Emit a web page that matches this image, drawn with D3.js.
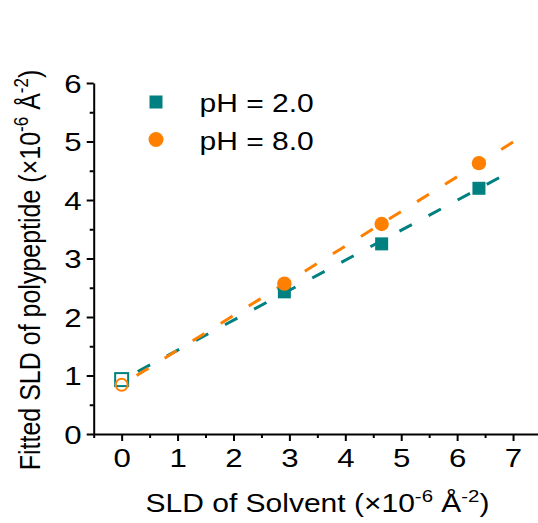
<!DOCTYPE html>
<html>
<head>
<meta charset="utf-8">
<script src="https://cdn.jsdelivr.net/npm/d3@7"></script>
<style>
  body { margin: 0; background: #fff; }
  svg text { font-family: "Liberation Sans", Arial, sans-serif; fill: #000; }
</style>
</head>
<body>
<script>
// data
const seriesNames = ["pH = 2.0", "pH = 8.0"];
const colors = ["#008080", "#ff8000"];
const solventSLD = [0, 2.91, 4.65, 6.39];
const ph2Values = [0.93, 2.43, 3.25, 4.2];
const ph8Values = [0.84, 2.57, 3.59, 4.63];
// fitted lines, endpoints [x, y]
const ph2Fit = [[0, 0.92], [6.75, 4.38]];
const ph8Fit = [[0, 0.84], [7.0, 4.99]];
const xTicks = [0, 1, 2, 3, 4, 5, 6, 7];
const yTicks = [0, 1, 2, 3, 4, 5, 6];

const width = 538, height = 523;
const stretch = 1.2; // text in the picture is a bit wide

const svg = d3.select("body").append("svg")
  .attr("width", width)
  .attr("height", height);

const x = d3.scaleLinear()
  .domain([-0.5, 7.5])
  .range([93.7, 541]);

const y = d3.scaleLinear()
  .domain([0, 6])
  .range([434, 83]);

// minor ticks
svg.append("g")
  .attr("transform", "translate(0,434)")
  .call(d3.axisBottom(x).tickValues(d3.range(-0.5, 7.6, 0.5).filter(d => d % 1 !== 0)).tickSize(4).tickFormat("").tickSizeOuter(0))
  .call(g => g.select(".domain").remove())
  .call(g => g.selectAll("line").attr("stroke-width", 2));

svg.append("g")
  .attr("transform", "translate(93.7,0)")
  .call(d3.axisLeft(y).tickValues(d3.range(0.5, 6, 1)).tickSize(4).tickFormat("").tickSizeOuter(0))
  .call(g => g.select(".domain").remove())
  .call(g => g.selectAll("line").attr("stroke-width", 2));

// major axes
const xAxis = svg.append("g")
  .attr("transform", "translate(0,434)")
  .call(d3.axisBottom(x).tickValues(xTicks).tickFormat(d3.format("d")).tickSize(7).tickSizeOuter(0).tickPadding(8));

const yAxis = svg.append("g")
  .attr("transform", "translate(93.7,0)")
  .call(d3.axisLeft(y).tickValues(yTicks).tickFormat(d3.format("d")).tickSize(7).tickSizeOuter(0));

[xAxis, yAxis].forEach(g => {
  g.select(".domain").attr("stroke-width", 2);
  g.selectAll(".tick line").attr("stroke-width", 2);
  g.selectAll(".tick text")
    .style("font-size", "26px")
    .style("font-family", "'Liberation Sans', Arial, sans-serif")
    .attr("transform", `scale(${stretch},1)`);
});
yAxis.selectAll(".tick text").attr("x", -10).attr("dy", "0.36em");

// fit lines, dashes lined up so each line ends on a dash
const dash = 14, gap = 19;
const line = d3.line().x(d => x(d[0])).y(d => y(d[1]));
[ph2Fit, ph8Fit].forEach((fit, i) => {
  const p = svg.append("path")
    .attr("d", line(fit))
    .attr("fill", "none")
    .attr("stroke", colors[i])
    .attr("stroke-width", 3)
    .attr("stroke-dasharray", `${dash},${gap}`);
  const len = p.node().getTotalLength();
  const period = dash + gap;
  p.attr("stroke-dashoffset", (((dash - len) % period) + period) % period);
});

// points: first point (x = 0) is hollow
const ph2Points = solventSLD.map((d, i) => ({ x: d, y: ph2Values[i], hollow: i === 0 }));
const ph8Points = solventSLD.map((d, i) => ({ x: d, y: ph8Values[i], hollow: i === 0 }));

svg.selectAll(".sq")
  .data(ph2Points)
  .enter()
  .append("rect")
  .attr("class", "sq")
  .attr("x", d => x(d.x) - 6.5)
  .attr("y", d => y(d.y) - 6.5)
  .attr("width", 13)
  .attr("height", 13)
  .attr("fill", d => d.hollow ? "#fff" : colors[0])
  .attr("fill-opacity", d => d.hollow ? 0 : 1)
  .attr("stroke", colors[0])
  .attr("stroke-width", d => d.hollow ? 2 : 0);

svg.selectAll(".dot")
  .data(ph8Points)
  .enter()
  .append("circle")
  .attr("class", "dot")
  .attr("cx", d => x(d.x))
  .attr("cy", d => y(d.y))
  .attr("r", d => d.hollow ? 6 : 7.2)
  .attr("fill", d => d.hollow ? "#fff" : colors[1])
  .attr("fill-opacity", d => d.hollow ? 0 : 1)
  .attr("stroke", colors[1])
  .attr("stroke-width", d => d.hollow ? 2 : 0);

// legend
const legend = svg.append("g");
legend.append("rect")
  .attr("x", 149.5).attr("y", 95.5)
  .attr("width", 13).attr("height", 13)
  .attr("fill", colors[0]);
legend.append("circle")
  .attr("cx", 156).attr("cy", 139.5)
  .attr("r", 7.5)
  .attr("fill", colors[1]);
legend.selectAll(".lt")
  .data(seriesNames)
  .enter()
  .append("text")
  .attr("class", "lt")
  .attr("transform", (d, i) => `translate(199.5,${112 + i * 38}) scale(${stretch},1)`)
  .style("font-size", "25px")
  .text(d => d);

// axis titles
function titleText(sel, main) {
  sel.append("tspan").text(main + " (×10");
  sel.append("tspan").attr("dy", -10).style("font-size", "17px").text("-6");
  sel.append("tspan").attr("dy", 10).text(" Å");
  sel.append("tspan").attr("dy", -10).style("font-size", "17px").text("-2");
  sel.append("tspan").attr("dy", 10).text(")");
}

svg.append("text")
  .attr("transform", `translate(317.5,512) scale(${stretch},1)`)
  .attr("text-anchor", "middle")
  .style("font-size", "25px")
  .call(titleText, "SLD of Solvent");

svg.append("text")
  .attr("transform", `translate(40,270) rotate(-90) scale(1,${stretch})`)
  .attr("text-anchor", "middle")
  .style("font-size", "25px")
  .call(titleText, "Fitted SLD of polypeptide");
</script>
</body>
</html>
